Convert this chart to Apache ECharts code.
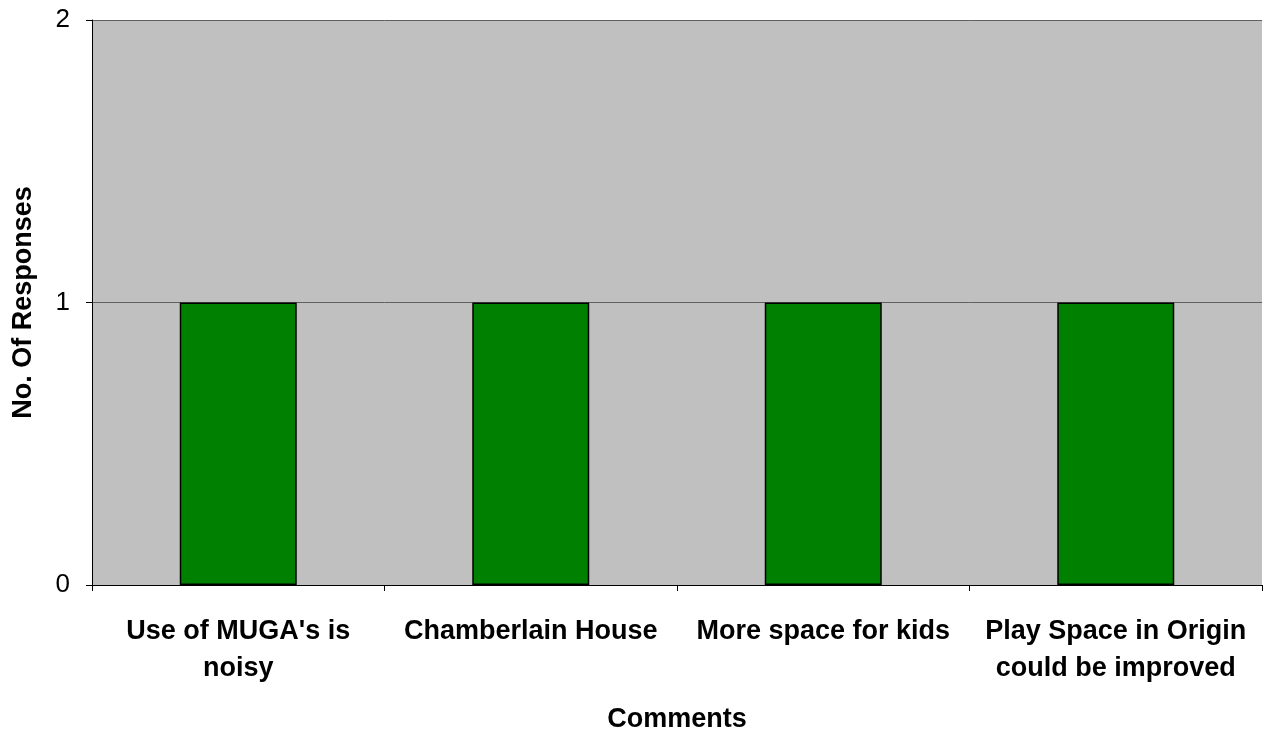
<!DOCTYPE html>
<html><head><meta charset="utf-8">
<script src="https://cdn.jsdelivr.net/npm/echarts@6/dist/echarts.min.js"></script>
<style>html,body{margin:0;padding:0;background:#fff}#c{width:1268px;height:733px}</style>
</head><body><div id="c"></div>
<script>
const categories = ["Use of MUGA's is\nnoisy", "Chamberlain House", "More space for kids", "Play Space in Origin\ncould be improved"];
const responses = [1, 1, 1, 1];
const yTicks = [0, 1, 2];

const chart = echarts.init(document.getElementById('c'));
chart.setOption({
  animation: false,
  backgroundColor: '#ffffff',
  grid: { left: 92, right: 6, top: 20, bottom: 148, backgroundColor: '#c0c0c0', show: true, borderWidth: 0, containLabel: false, outerBoundsMode: 'none' },
  xAxis: {
    type: 'category',
    data: categories,
    name: 'Comments',
    nameLocation: 'middle',
    nameGap: 121,
    nameTextStyle: { fontFamily: 'Liberation Sans, Arial', fontSize: 27, fontWeight: 'bold', color: '#000' },
    axisLine: { lineStyle: { color: '#000', width: 1 } },
    axisTick: { show: true, length: 6, lineStyle: { color: '#000' }, alignWithLabel: false },
    axisLabel: { interval: 0, margin: 28, lineHeight: 37, fontFamily: 'Liberation Sans, Arial', fontSize: 27, fontWeight: 'bold', color: '#000' },
    splitLine: { show: false }
  },
  yAxis: {
    type: 'value',
    min: yTicks[0], max: yTicks[yTicks.length - 1], interval: 1,
    name: 'No. Of Responses',
    nameLocation: 'middle',
    nameGap: 55,
    nameTextStyle: { fontFamily: 'Liberation Sans, Arial', fontSize: 27, fontWeight: 'bold', color: '#000' },
    axisLine: { show: true, lineStyle: { color: '#000', width: 1 } },
    axisTick: { show: true, length: 6, lineStyle: { color: '#000' } },
    axisLabel: { margin: 22, fontFamily: 'Liberation Sans, Arial', fontSize: 26, color: '#000' },
    splitLine: { show: true, lineStyle: { color: '#606060', width: 1 } }
  },
  series: [{
    type: 'bar',
    data: responses,
    barWidth: '40%',
    itemStyle: { color: '#008000', borderColor: '#000', borderWidth: 1.5 }
  }]
});
</script></body></html>
